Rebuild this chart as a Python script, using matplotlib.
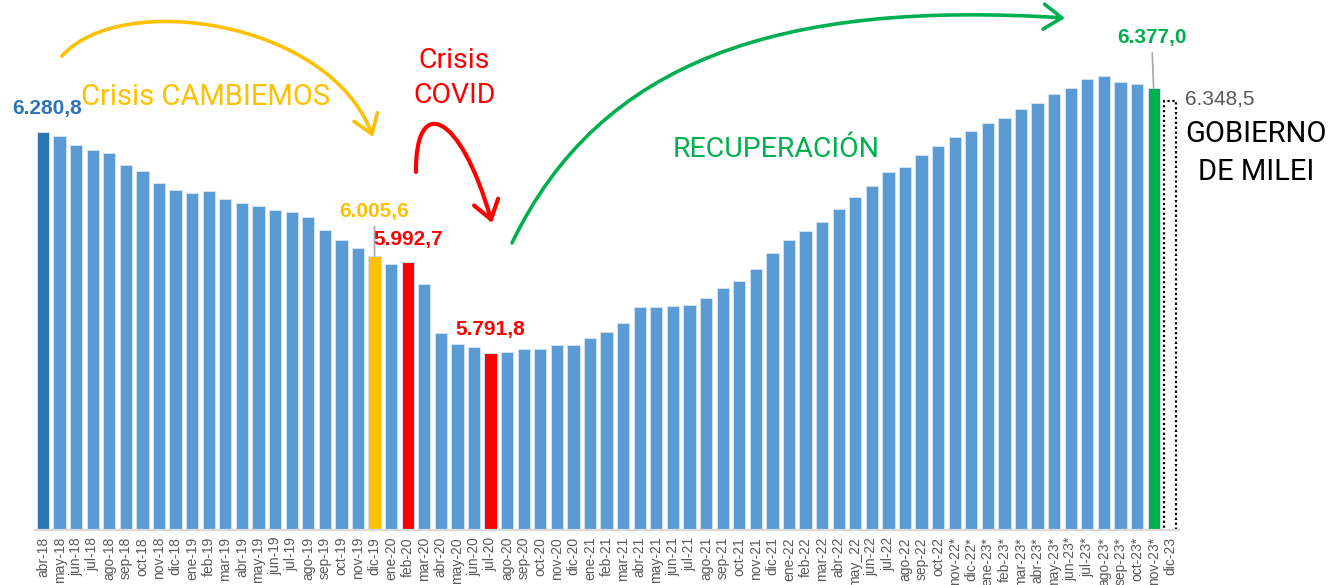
import matplotlib.pyplot as plt
from matplotlib.patches import FancyArrowPatch
from matplotlib.path import Path

# datos (miles de trabajadores registrados)
meses = ["abr-18", "may-18", "jun-18", "jul-18", "ago-18", "sep-18", "oct-18", "nov-18", "dic-18",
         "ene-19", "feb-19", "mar-19", "abr-19", "may-19", "jun-19", "jul-19", "ago-19", "sep-19",
         "oct-19", "nov-19", "dic-19", "ene-20", "feb-20", "mar-20", "abr-20", "may-20", "jun-20",
         "jul-20", "ago-20", "sep-20", "oct-20", "nov-20", "dic-20", "ene-21", "feb-21", "mar-21",
         "abr-21", "may-21", "jun-21", "jul-21", "ago-21", "sep-21", "oct-21", "nov-21", "dic-21",
         "ene-22", "feb-22", "mar-22", "abr-22", "may_22", "jun-22", "jul-22", "ago-22", "sep-22",
         "oct-22", "nov-22*", "dic-22*", "ene-23*", "feb-23*", "mar-23*", "abr-23*", "may-23*",
         "jun-23*", "jul-23*", "ago-23*", "sep-23*", "oct-23*", "nov-23*", "dic-23"]

empleo = [6280.8, 6272.0, 6250.7, 6241.0, 6233.0, 6207.8, 6193.8, 6167.9, 6152.5,
          6144.5, 6149.6, 6131.9, 6123.0, 6116.4, 6108.2, 6102.5, 6092.7, 6063.3,
          6041.2, 6022.8, 6005.6, 5987.4, 5992.7, 5944.5, 5836.0, 5811.0, 5804.4,
          5791.8, 5793.3, 5799.3, 5800.6, 5808.8, 5809.5, 5824.3, 5837.6, 5857.5,
          5892.2, 5892.6, 5895.1, 5896.7, 5912.8, 5934.9, 5951.1, 5976.9, 6012.4,
          6042.3, 6060.4, 6081.0, 6110.4, 6136.3, 6161.3, 6192.3, 6202.0, 6228.6,
          6249.2, 6269.7, 6282.3, 6300.1, 6311.8, 6330.4, 6344.3, 6363.6,
          6377.5, 6396.7, 6403.4, 6390.1, 6385.7, 6377.0, 6348.5]

destacados = {"abr-18": "#2E75B6", "dic-19": "#FFC000", "feb-20": "#FF0000",
              "jul-20": "#FF0000", "nov-23*": "#00B050"}

W, H = 1340, 585
fig = plt.figure(figsize=(W / 100, H / 100), dpi=100)
ax = fig.add_axes([34.7 / W, 55 / H, (1178.5 - 34.7) / W, 520 / H])


def px(x, y):
    # pixel de la imagen (desde arriba) -> fraccion de figura
    return (x / W, 1 - y / H)


x = list(range(len(meses)))
colores = [destacados.get(m, "#5B9BD5") for m in meses[:-1]]
ax.bar(x[:-1], empleo[:-1], width=0.74, color=colores, edgecolor="#D2E2F3", linewidth=0.7, zorder=2)
# diciembre 2023: barra punteada
ax.bar(x[-1], empleo[-1], width=0.74, facecolor="white", edgecolor="black",
       linestyle=(0, (1, 1.2)), linewidth=1.6, zorder=2)

ax.set_xlim(-0.5, len(meses) - 0.5)
ax.set_ylim(5400, 6550)
ax.set_yticks([])
ax.set_xticks(x)
ax.set_xticklabels(meses, rotation=90, fontsize=10, color="#595959", family="Liberation Sans")
ax.tick_params(axis="x", length=0, pad=5)
for s in ["top", "left", "right"]:
    ax.spines[s].set_visible(False)
ax.spines["bottom"].set_color("#D9D9D9")
ax.spines["bottom"].set_linewidth(1.6)
ax.spines["bottom"].set_zorder(3)

# etiquetas de valores
def etiqueta(mes, texto, color, dx, dy, peso="bold", ha="center", linea=False):
    i = meses.index(mes)
    kw = {}
    if linea:
        kw["arrowprops"] = dict(arrowstyle="-", color="#A6A6A6", lw=1.2, shrinkA=2, shrinkB=0)
    ax.annotate(texto, xy=(i, empleo[i]), xytext=(dx, dy), textcoords="offset pixels",
                ha=ha, va="baseline", fontsize=15, fontweight=peso, color=color,
                family="Liberation Sans", annotation_clip=False, **kw)


etiqueta("abr-18", "6.280,8", "#2E75B6", 4.5, 17.7)
etiqueta("dic-19", "6.005,6", "#FFC000", 0, 39.3, linea=True)
etiqueta("feb-20", "5.992,7", "#FF0000", 0.5, 17)
etiqueta("jul-20", "5.791,8", "#FF0000", 0, 17.7)
etiqueta("nov-23*", "6.377,0", "#00B050", -2, 45, linea=True)
etiqueta("dic-23", "6.348,5", "#595959", 15, -3, peso="normal", ha="left")

# textos
tf = dict(transform=fig.transFigure, family="Roboto", fontsize=20.5, ha="center", va="baseline")
fig.text(*px(206, 105), "Crisis CAMBIEMOS", color="#FFC000", **(tf | {"fontsize": 21}))
fig.text(*px(454, 68), "Crisis", color="#FF0000", **tf)
fig.text(*px(455, 103), "COVID", color="#FF0000", **tf)
fig.text(*px(776, 157), "RECUPERACIÓN", color="#00B050", **tf)
fig.text(*px(1256, 142), "GOBIERNO", color="black", **(tf | {"fontsize": 21}))
fig.text(*px(1256, 180), "DE MILEI", color="black", **(tf | {"fontsize": 21}))

# flechas curvas
def flecha(p0, p1, p2, p3, color, lw):
    verts = [px(*p0), px(*p1), px(*p2), px(*p3)]
    path = Path(verts, [Path.MOVETO, Path.CURVE4, Path.CURVE4, Path.CURVE4])
    a = FancyArrowPatch(path=path, transform=fig.transFigure,
                        arrowstyle="->,head_length=0.65,head_width=0.45",
                        mutation_scale=20, color=color, lw=lw, capstyle="round")
    fig.add_artist(a)


flecha((62, 56), (120, -10), (330, 20), (373, 137), "#FFC000", 2.6)
flecha((416, 172), (415, 95), (460, 110), (492, 223), "#FF0000", 3.0)
flecha((512, 243), (600, 60), (780, 0), (1065, 18), "#00B050", 2.6)

fig.savefig("out.png", dpi=100)
